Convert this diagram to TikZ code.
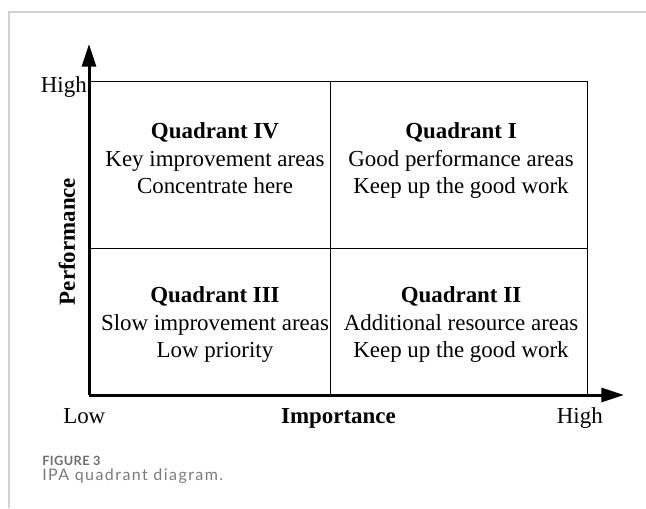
\documentclass[tikz,border=0pt]{standalone}
\usepackage{fontspec}
\setmainfont{Liberation Serif}
\newfontfamily\capfont[LetterSpace=9]{Lato}
\newfontfamily\capboldfont[LetterSpace=3]{Lato}
\usetikzlibrary{arrows.meta}
\definecolor{framegray}{HTML}{D2D2D2}
\definecolor{capgray}{HTML}{6E6E6E}
\definecolor{capgraylight}{HTML}{7A7A7A}
\tikzset{
  axisline/.style={line width=2.25pt,-{Triangle[length=17pt,width=10.5pt]}},
  gridline/.style={line width=0.75pt},
  lbl/.style={inner sep=0pt,font=\fontsize{17.2}{20}\selectfont},
  boldlbl/.style={lbl,font=\fontsize{17.2}{20}\selectfont\bfseries},
  framel/.style={line width=1.1pt,draw=framegray},
}
\begin{document}
\begin{tikzpicture}[x=0.75pt,y=-0.75pt]
\useasboundingbox (0,0) rectangle (646,508);
% outer frame
\coordinate (fa) at (9,508);
\coordinate (fb) at (9,12);
\coordinate (fc) at (646,12);
\draw[framel] (fa) -- (fb) -- (fc);
% grid
\coordinate (o) at (89,395);
\coordinate (tl) at (89,81);
\coordinate (br) at (587,395);
\coordinate (tr) at (587,81);
\coordinate (mt) at (330,81);
\coordinate (mb) at (330,395);
\coordinate (ml) at (89,248);
\coordinate (mr) at (587,248);
\draw[gridline] (tl) -- (tr) -- (br);
\draw[gridline] (mt) -- (mb);
\draw[gridline] (ml) -- (mr);
% axes
\coordinate (ytip) at (89,44);
\coordinate (xtip) at (624,395);
\draw[axisline] (o) -- (ytip);
\draw[axisline] (o) -- (xtip);
% axis labels
\node[lbl,anchor=base east] (yhigh) at (87,92) {High};
\node[lbl,anchor=base west] (xlow) at (63,423) {Low};
\node[lbl,anchor=base east] (xhigh) at (603,423) {High};
\node[boldlbl,anchor=base] (ximp) at (338.5,423) {Importance};
\node[boldlbl,rotate=90] (yperf) at (67,241.5) {Performance};
% quadrant IV
\node[boldlbl,anchor=base] (q4a) at (215,138) {Quadrant IV};
\node[lbl,anchor=base] (q4b) at (215,166) {Key improvement areas};
\node[lbl,anchor=base] (q4c) at (215,193) {Concentrate here};
% quadrant I
\node[boldlbl,anchor=base] (q1a) at (461,138) {Quadrant I};
\node[lbl,anchor=base] (q1b) at (461,166) {Good performance areas};
\node[lbl,anchor=base] (q1c) at (461,193) {Keep up the good work};
% quadrant III
\node[boldlbl,anchor=base] (q3a) at (215,302) {Quadrant III};
\node[lbl,anchor=base] (q3b) at (215,330) {Slow improvement areas};
\node[lbl,anchor=base] (q3c) at (215,357) {Low priority};
% quadrant II
\node[boldlbl,anchor=base] (q2a) at (461,302) {Quadrant II};
\node[lbl,anchor=base] (q2b) at (461,330) {Additional resource areas};
\node[lbl,anchor=base] (q2c) at (461,357) {Keep up the good work};
% caption
\node[inner sep=0pt,anchor=base west,text=capgray,font=\capboldfont\fontsize{9.6}{11}\selectfont\bfseries] (fig) at (42,465) {FIGURE 3};
\node[inner sep=0pt,anchor=base west,text=capgraylight,font=\capfont\fontsize{12}{14}\selectfont] (figcap) at (42,480) {IPA quadrant diagram.};
\end{tikzpicture}
\end{document}
